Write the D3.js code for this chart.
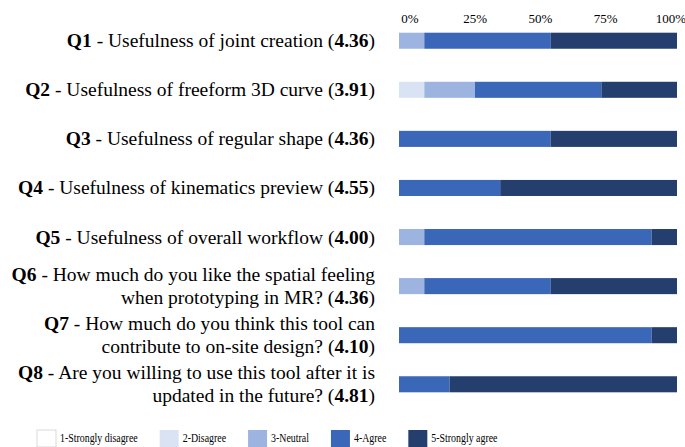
<!DOCTYPE html>
<html>
<head>
<meta charset="utf-8">
<script src="https://cdn.jsdelivr.net/npm/d3@7"></script>
<style>
  body { margin: 0; background: #fff; }
  text { font-family: "Liberation Serif", "Times New Roman", serif; fill: #000; }
</style>
</head>
<body>
<svg id="chart" width="685" height="447"></svg>
<script>
// survey results, 11 respondents, share of answers in %
var qIds = ["Q1", "Q2", "Q3", "Q4", "Q5", "Q6", "Q7", "Q8"];
var qLine1 = [
    " - Usefulness of joint creation",
    " - Usefulness of freeform 3D curve",
    " - Usefulness of regular shape",
    " - Usefulness of kinematics preview",
    " - Usefulness of overall workflow",
    " - How much do you like the spatial feeling",
    " - How much do you think this tool can",
    " - Are you willing to use this tool after it is"
];
var qLine2 = ["", "", "", "", "", "when prototyping in MR?", "contribute to on-site design?", "updated in the future?"];
var means = ["4.36", "3.91", "4.36", "4.55", "4.00", "4.36", "4.10", "4.81"];

var levels = ["1-Strongly disagree", "2-Disagree", "3-Neutral", "4-Agree", "5-Strongly agree"];
var stronglyDisagree = [0, 0, 0, 0, 0, 0, 0, 0];
var disagree         = [0, 9.1, 0, 0, 0, 0, 0, 0];
var neutral          = [9.1, 18.2, 0, 0, 9.1, 9.1, 0, 0];
var agree            = [45.5, 45.5, 54.5, 36.4, 81.8, 45.5, 90.9, 18.2];
var stronglyAgree    = [45.4, 27.2, 45.5, 63.6, 9.1, 45.4, 9.1, 81.8];
var tickValues = [0, 25, 50, 75, 100];

var colors = ["#ffffff", "#dae3f3", "#9db4e1", "#3a67b7", "#243f6d"];

var chart = (function(){
    var svg = d3.select("#chart");
    var series = [stronglyDisagree, disagree, neutral, agree, stronglyAgree];

    var rows = qIds.map(function(d, i){
        var r = {id: d};
        levels.forEach(function(l, j){ r[l] = series[j][i]; });
        return r;
    });
    var stacked = d3.stack().keys(levels)(rows);

    var x = d3.scaleLinear().domain([0, 100]).range([399, 677]);
    var xLab = d3.scaleLinear().domain([0, 100]).range([410, 671]);
    var y = d3.scaleBand().domain(qIds).range([16.5, 408.5]).paddingInner(0.673).paddingOuter(0.33);
    var color = d3.scaleOrdinal().domain(levels).range(colors);

    function _drawBars(){
        svg.append("g").selectAll("g")
            .data(stacked)
            .enter()
            .append("g")
            .attr("fill", function(d){ return color(d.key); })
            .selectAll("rect")
            .data(function(d){ return d; })
            .enter()
            .append("rect")
            .attr("x", function(d){ return x(d[0]); })
            .attr("y", function(d){ return y(d.data.id); })
            .attr("width", function(d){ return x(d[1]) - x(d[0]); })
            .attr("height", y.bandwidth());
    }

    function _drawTicks(){
        svg.append("g").selectAll("text")
            .data(tickValues)
            .enter()
            .append("text")
            .attr("x", function(d){ return xLab(d); })
            .attr("y", 23)
            .attr("text-anchor", "middle")
            .attr("font-size", 13)
            .text(function(d){ return d + "%"; });
    }

    function _drawLabels(){
        var g = svg.append("g").attr("font-size", 19.5).attr("text-anchor", "end");
        qIds.forEach(function(id, i){
            var cy = y(id) + y.bandwidth() / 2;
            var two = qLine2[i] !== "";
            var t1 = g.append("text").attr("x", 375).attr("y", (two ? cy - 11.5 : cy) + 6.5);
            t1.append("tspan").attr("font-weight", "bold").text(id);
            if (two) {
                t1.append("tspan").text(qLine1[i]);
                var t2 = g.append("text").attr("x", 375).attr("y", cy + 11.5 + 6.5);
                t2.append("tspan").text(qLine2[i] + " (");
                t2.append("tspan").attr("font-weight", "bold").text(means[i]);
                t2.append("tspan").text(")");
            } else {
                t1.append("tspan").text(qLine1[i] + " (");
                t1.append("tspan").attr("font-weight", "bold").text(means[i]);
                t1.append("tspan").text(")");
            }
        });
    }

    function _drawLegend(){
        var g = svg.append("g");
        var cx = 37;
        var squeeze = 0.86;
        levels.forEach(function(l, i){
            g.append("rect")
                .attr("x", cx).attr("y", 430)
                .attr("width", 19).attr("height", 17)
                .attr("fill", color(l))
                .attr("stroke", i === 0 ? "#d9d9d9" : "none");
            var t = g.append("text")
                .attr("transform", "translate(" + (cx + 23) + ",442) scale(" + squeeze + ",1)")
                .attr("font-size", 11.5)
                .text(l);
            cx += 23 + t.node().getComputedTextLength() * squeeze + 22;
        });
    }

    return {
        drawBars: _drawBars,
        drawTicks: _drawTicks,
        drawLabels: _drawLabels,
        drawLegend: _drawLegend
    };
})();

chart.drawBars();
chart.drawTicks();
chart.drawLabels();
chart.drawLegend();
</script>
</body>
</html>
